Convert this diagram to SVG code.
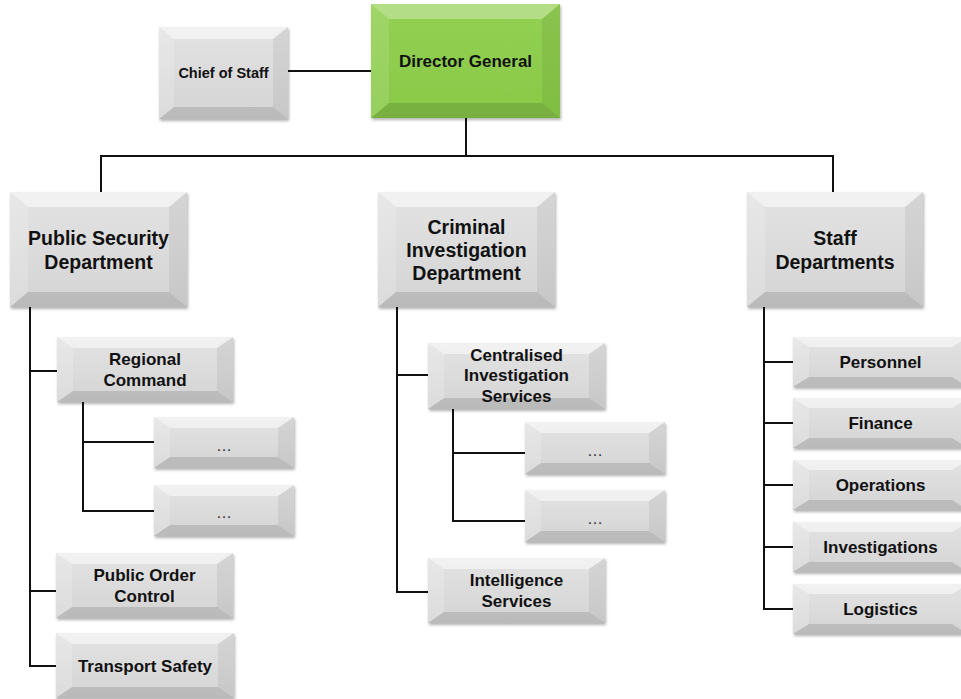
<svg xmlns="http://www.w3.org/2000/svg" width="961" height="699" viewBox="0 0 961 699">
<defs>
<linearGradient id="gGray" x1="0" y1="0" x2="0" y2="1">
<stop offset="0" stop-color="#e3e3e3"/>
<stop offset="1" stop-color="#d4d4d4"/>
</linearGradient>
<linearGradient id="gGreen" x1="0" y1="0" x2="0" y2="1">
<stop offset="0" stop-color="#93d053"/>
<stop offset="1" stop-color="#89c948"/>
</linearGradient>
<filter id="sh" x="-10%" y="-10%" width="125%" height="130%">
<feDropShadow dx="1" dy="2" stdDeviation="1.5" flood-color="#000" flood-opacity="0.3"/>
</filter>
</defs>
<style>
.face{fill:url(#gGray);filter:url(#sh)}
.green{fill:url(#gGreen);filter:url(#sh)}
.bt{fill:#fff;opacity:.5}
.bl{fill:#fff;opacity:.18}
.br{fill:#000;opacity:.06}
.bb{fill:#000;opacity:.12}
.conn path{fill:none;stroke:#111;stroke-width:2}
text{font-family:"Liberation Sans",Arial,sans-serif;font-weight:bold;fill:#111;text-anchor:middle}
.L{font-size:19.5px}
.M{font-size:17px}
.S{font-size:14.5px}
.d{font-size:16px;fill:#333;font-weight:normal}
</style>
<rect width="961" height="699" fill="#fff"/>

<g class="conn">
<path d="M288,71 H371"/>
<path d="M466,118 V156"/>
<path d="M101,156 H833 M101,155 V192 M833,155 V192"/>
<path d="M30,307 V666 M29,371 H57 M29,591 H56 M29,666 H56"/>
<path d="M83,402 V511 M82,442 H154 M82,511 H154"/>
<path d="M397,307 V592 M396,375 H428 M396,592 H428"/>
<path d="M453,409 V521 M452,453 H525 M452,521 H525"/>
<path d="M764,307 V609 M763,362 H793 M763,423 H793 M763,485 H793 M763,547 H793 M763,609 H793"/>
</g>

<g id="chief">
<rect class="face" x="159" y="27" width="129" height="92"/>
<polygon class="bt" points="159,27 288,27 273,39 174,39"/>
<polygon class="bl" points="159,27 174,39 174,107 159,119"/>
<polygon class="br" points="288,27 288,119 273,107 273,39"/>
<polygon class="bb" points="159,119 288,119 273,107 174,107"/>
<text class="S" x="223.5" y="78">Chief of Staff</text>
</g>

<g id="director">
<rect class="green" x="371" y="4" width="189" height="114"/>
<polygon class="bt" points="371,4 560,4 542,19 389,19" style="opacity:.3"/>
<polygon class="bl" points="371,4 389,19 389,103 371,118" style="opacity:.12"/>
<polygon class="br" points="560,4 560,118 542,103 542,19"/>
<polygon class="bb" points="371,118 560,118 542,103 389,103"/>
<text class="M" x="465.5" y="67">Director General</text>
</g>

<g id="psd">
<rect class="face" x="10" y="192" width="177" height="115"/>
<polygon class="bt" points="10,192 187,192 169,207 28,207"/>
<polygon class="bl" points="10,192 28,207 28,292 10,307"/>
<polygon class="br" points="187,192 187,307 169,292 169,207"/>
<polygon class="bb" points="10,307 187,307 169,292 28,292"/>
<text class="L" x="98.5" y="245">Public Security</text>
<text class="L" x="98.5" y="269">Department</text>
</g>

<g id="cid">
<rect class="face" x="378" y="192" width="177" height="115"/>
<polygon class="bt" points="378,192 555,192 537,207 396,207"/>
<polygon class="bl" points="378,192 396,207 396,292 378,307"/>
<polygon class="br" points="555,192 555,307 537,292 537,207"/>
<polygon class="bb" points="378,307 555,307 537,292 396,292"/>
<text class="L" x="466.5" y="234">Criminal</text>
<text class="L" x="466.5" y="257">Investigation</text>
<text class="L" x="466.5" y="280">Department</text>
</g>

<g id="staff">
<rect class="face" x="747" y="192" width="176" height="115"/>
<polygon class="bt" points="747,192 923,192 905,207 765,207"/>
<polygon class="bl" points="747,192 765,207 765,292 747,307"/>
<polygon class="br" points="923,192 923,307 905,292 905,207"/>
<polygon class="bb" points="747,307 923,307 905,292 765,292"/>
<text class="L" x="835" y="245">Staff</text>
<text class="L" x="835" y="269">Departments</text>
</g>

<g id="regional">
<rect class="face" x="57" y="337" width="176" height="65"/>
<polygon class="bt" points="57,337 233,337 217,348 73,348"/>
<polygon class="bl" points="57,337 73,348 73,391 57,402"/>
<polygon class="br" points="233,337 233,402 217,391 217,348"/>
<polygon class="bb" points="57,402 233,402 217,391 73,391"/>
<text class="M" x="145" y="365">Regional</text>
<text class="M" x="145" y="386">Command</text>
</g>

<g id="rc1">
<rect class="face" x="154" y="417" width="140" height="51"/>
<polygon class="bt" points="154,417 294,417 278,428 170,428"/>
<polygon class="bl" points="154,417 170,428 170,457 154,468"/>
<polygon class="br" points="294,417 294,468 278,457 278,428"/>
<polygon class="bb" points="154,468 294,468 278,457 170,457"/>
<text class="d" x="224" y="451">…</text>
</g>

<g id="rc2">
<rect class="face" x="154" y="485" width="140" height="51"/>
<polygon class="bt" points="154,485 294,485 278,496 170,496"/>
<polygon class="bl" points="154,485 170,496 170,525 154,536"/>
<polygon class="br" points="294,485 294,536 278,525 278,496"/>
<polygon class="bb" points="154,536 294,536 278,525 170,525"/>
<text class="d" x="224" y="518">…</text>
</g>

<g id="poc">
<rect class="face" x="56" y="553" width="177" height="65"/>
<polygon class="bt" points="56,553 233,553 217,564 72,564"/>
<polygon class="bl" points="56,553 72,564 72,607 56,618"/>
<polygon class="br" points="233,553 233,618 217,607 217,564"/>
<polygon class="bb" points="56,618 233,618 217,607 72,607"/>
<text class="M" x="144.5" y="581">Public Order</text>
<text class="M" x="144.5" y="602">Control</text>
</g>

<g id="transport">
<rect class="face" x="56" y="633" width="178" height="65"/>
<polygon class="bt" points="56,633 234,633 218,644 72,644"/>
<polygon class="bl" points="56,633 72,644 72,687 56,698"/>
<polygon class="br" points="234,633 234,698 218,687 218,644"/>
<polygon class="bb" points="56,698 234,698 218,687 72,687"/>
<text class="M" x="145" y="672">Transport Safety</text>
</g>

<g id="cis">
<rect class="face" x="428" y="343" width="177" height="66"/>
<polygon class="bt" points="428,343 605,343 589,354 444,354"/>
<polygon class="bl" points="428,343 444,354 444,398 428,409"/>
<polygon class="br" points="605,343 605,409 589,398 589,354"/>
<polygon class="bb" points="428,409 605,409 589,398 444,398"/>
<text class="M" x="516.5" y="361">Centralised</text>
<text class="M" x="516.5" y="381">Investigation</text>
<text class="M" x="516.5" y="402">Services</text>
</g>

<g id="cis1">
<rect class="face" x="525" y="422" width="140" height="52"/>
<polygon class="bt" points="525,422 665,422 649,433 541,433"/>
<polygon class="bl" points="525,422 541,433 541,463 525,474"/>
<polygon class="br" points="665,422 665,474 649,463 649,433"/>
<polygon class="bb" points="525,474 665,474 649,463 541,463"/>
<text class="d" x="595" y="456">…</text>
</g>

<g id="cis2">
<rect class="face" x="525" y="490" width="140" height="52"/>
<polygon class="bt" points="525,490 665,490 649,501 541,501"/>
<polygon class="bl" points="525,490 541,501 541,531 525,542"/>
<polygon class="br" points="665,490 665,542 649,531 649,501"/>
<polygon class="bb" points="525,542 665,542 649,531 541,531"/>
<text class="d" x="595" y="524">…</text>
</g>

<g id="intel">
<rect class="face" x="428" y="558" width="177" height="65"/>
<polygon class="bt" points="428,558 605,558 589,569 444,569"/>
<polygon class="bl" points="428,558 444,569 444,612 428,623"/>
<polygon class="br" points="605,558 605,623 589,612 589,569"/>
<polygon class="bb" points="428,623 605,623 589,612 444,612"/>
<text class="M" x="516.5" y="586">Intelligence</text>
<text class="M" x="516.5" y="607">Services</text>
</g>

<g id="personnel">
<rect class="face" x="793" y="337" width="175" height="50"/>
<polygon class="bt" points="793,337 968,337 952,347 809,347"/>
<polygon class="bl" points="793,337 809,347 809,377 793,387"/>
<polygon class="bb" points="793,387 968,387 952,377 809,377"/>
<text class="M" x="880.5" y="368">Personnel</text>
</g>

<g id="finance">
<rect class="face" x="793" y="398" width="175" height="50"/>
<polygon class="bt" points="793,398 968,398 952,408 809,408"/>
<polygon class="bl" points="793,398 809,408 809,438 793,448"/>
<polygon class="bb" points="793,448 968,448 952,438 809,438"/>
<text class="M" x="880.5" y="429">Finance</text>
</g>

<g id="operations">
<rect class="face" x="793" y="460" width="175" height="50"/>
<polygon class="bt" points="793,460 968,460 952,470 809,470"/>
<polygon class="bl" points="793,460 809,470 809,500 793,510"/>
<polygon class="bb" points="793,510 968,510 952,500 809,500"/>
<text class="M" x="880.5" y="491">Operations</text>
</g>

<g id="investigations">
<rect class="face" x="793" y="522" width="175" height="50"/>
<polygon class="bt" points="793,522 968,522 952,532 809,532"/>
<polygon class="bl" points="793,522 809,532 809,562 793,572"/>
<polygon class="bb" points="793,572 968,572 952,562 809,562"/>
<text class="M" x="880.5" y="553">Investigations</text>
</g>

<g id="logistics">
<rect class="face" x="793" y="584" width="175" height="50"/>
<polygon class="bt" points="793,584 968,584 952,594 809,594"/>
<polygon class="bl" points="793,584 809,594 809,624 793,634"/>
<polygon class="bb" points="793,634 968,634 952,624 809,624"/>
<text class="M" x="880.5" y="615">Logistics</text>
</g>
</svg>
